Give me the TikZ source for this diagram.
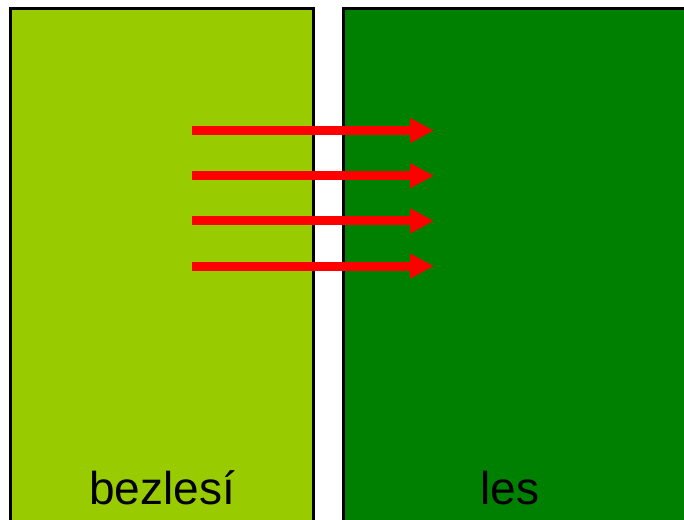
\documentclass[tikz,border=0pt]{standalone}
\usepackage{fontspec}
\setmainfont{Liberation Sans}
\usepackage{xcolor}
\usetikzlibrary{arrows.meta}
\definecolor{meadow}{HTML}{99CC00}
\definecolor{forest}{HTML}{008000}
\definecolor{windred}{HTML}{FF0000}

\begin{document}
\begin{tikzpicture}[x=0.75pt, y=-0.75pt]
      \pgfmathsetmacro{\gap}{45.2} % vertical spacing of the arrows
      \useasboundingbox (0,0) rectangle (684,519);
      \clip (0,0) rectangle (684,519);
      % Fields
      \draw[line width=1.7pt, black, fill=meadow] (10.5,8.5) rectangle (313.5,540);
      \draw[line width=1.7pt, black, fill=forest] (343.5,8.5) rectangle (700,540);
      % Wind arrows crossing the edge
      \foreach \k in {0,...,3}
        \draw[windred, line width=6.75pt, -{Triangle[length=18pt, width=17.5pt]}]
          (192,130.5+\k*\gap) -- (434,130.5+\k*\gap);
      % Labels
      \node[anchor=base, font=\fontsize{34.5}{40}\selectfont] (open) at (162,504) {bezlesí};
      \node[anchor=base, font=\fontsize{34.5}{40}\selectfont] (wood) at (510,504) {les};
    \end{tikzpicture}
\end{document}
